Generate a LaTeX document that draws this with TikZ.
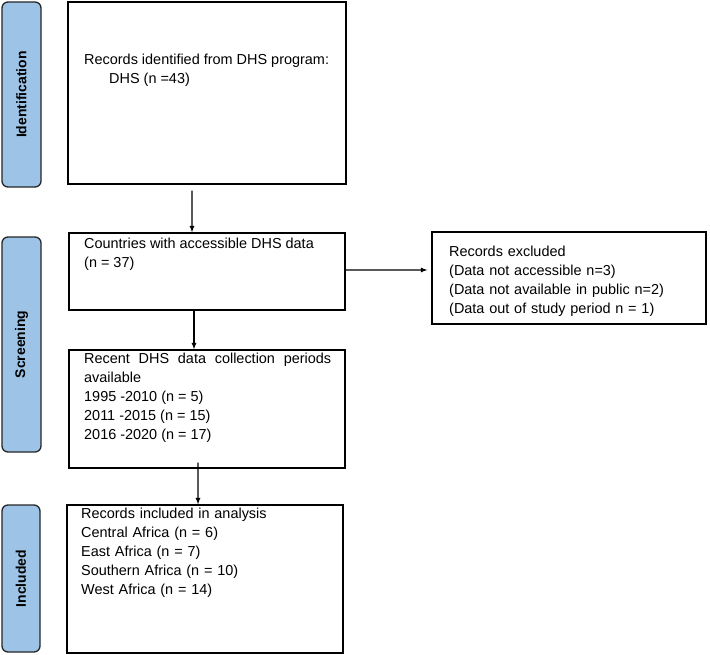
\documentclass[tikz,border=0pt]{standalone}
\usepackage{fontspec}
\setmainfont{Liberation Sans}
\usetikzlibrary{positioning}

\definecolor{stageblue}{HTML}{9DC3E6}

\begin{document}
\begin{tikzpicture}[x=1bp, y=-1bp,
    box/.style = {draw, line width=1.3pt, inner sep=0pt},
    txt/.style = {anchor=north west, inner sep=0pt, align=justify, font=\fontsize{14.5}{19}\selectfont},
    stage/.style = {draw=black!85, fill=stageblue, rounded corners=6bp, line width=1.3pt, inner sep=0pt},
    stagetxt/.style = {rotate=90, font=\bfseries\fontsize{14}{17}\selectfont},
    arr/.style = {->, >=latex, line width=1.2pt}]
    \useasboundingbox (0,0) rectangle (710,655);
    % stages
    \node[stage, minimum width=39bp, minimum height=185bp] (identbar) at (21.5,94.5) {};
    \node[stagetxt] at (identbar) {Identification};
    \node[stage, minimum width=39bp, minimum height=215bp] (screenbar) at (21.5,344.5) {};
    \node[stagetxt] at (screenbar) {Screening};
    \node[stage, minimum width=38bp, minimum height=147bp] (inclbar) at (21,578.5) {};
    \node[stagetxt] at (inclbar) {Included};
    % boxes
    \node[box, minimum width=278bp, minimum height=182bp] (ident) at (207,93) {};
    \node[box, minimum width=276bp, minimum height=77bp] (access) at (207,271.5) {};
    \node[box, minimum width=276bp, minimum height=118bp] (periods) at (207,409) {};
    \node[box, minimum width=276bp, minimum height=148bp] (incl) at (205,579) {};
    \node[box, minimum width=274bp, minimum height=92bp] (excl) at (569,278) {};
    % texts
    \node[txt, text width=247bp] at (84,54) {Records identified from DHS program:\\
        \hspace*{25bp}DHS (n =43)};
    \node[txt, text width=247bp] at (84,238) {Countries with accessible DHS data\\(n = 37)};
    \node[txt, text width=247bp] at (84,353) {Recent DHS data collection periods available\\
        1995 -2010 (n = 5)\\2011 -2015 (n = 15)\\2016 -2020 (n = 17)};
    \node[txt, text width=250bp, align=left] at (81,508) {Records included in analysis\\
        Central Africa (n = 6)\\East Africa (n = 7)\\Southern Africa (n = 10)\\West Africa (n = 14)};
    \node[txt, text width=255bp, align=left] at (449,246) {Records excluded\\
        (Data not accessible n=3)\\(Data not available in public n=2)\\(Data out of study period n = 1)};
    % arrows
    \draw[arr] (ident.south) ++(-15,6) -- ([xshift=-15bp]access.north);
    \draw[arr] ([yshift=1.5bp]access.east) -- ([xshift=-4bp,yshift=8bp]excl.west);
    \draw[arr] ([xshift=-13bp]access.south) -- ([xshift=-13bp]periods.north);
    \draw[arr] ([xshift=-9bp,yshift=6bp]periods.south) -- ([xshift=-7bp]incl.north);
\end{tikzpicture}
\end{document}
